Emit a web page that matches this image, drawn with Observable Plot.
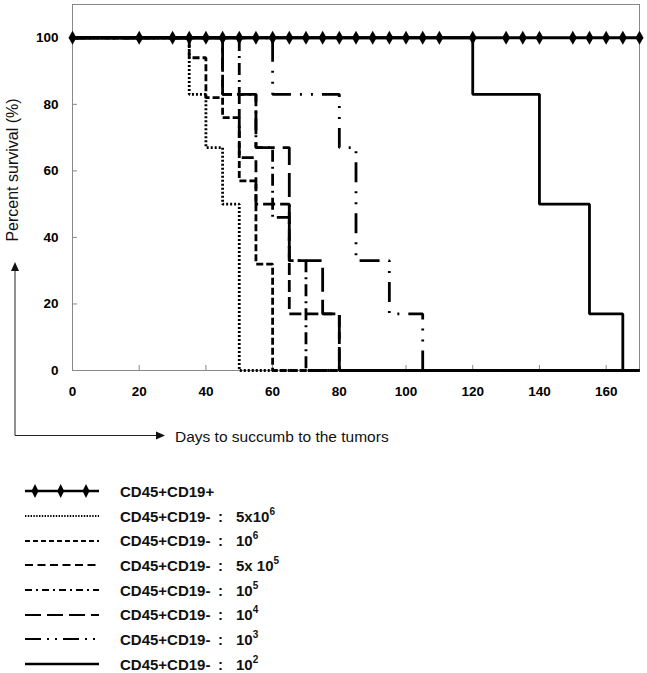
<!DOCTYPE html>
<html><head><meta charset="utf-8">
<script src="https://cdn.jsdelivr.net/npm/d3@7"></script>
<script src="https://cdn.jsdelivr.net/npm/@observablehq/plot@0.6"></script>
<style>
body{margin:0;background:#fff;font-family:"Liberation Sans",Arial,sans-serif;}
#chart{width:647px;}
#chart svg{display:block;}
#chart g[aria-label$="tick label"] text{font-weight:bold;font-size:13.5px;fill:#000;}
.legend{margin-top:29px;width:647px;}
.row{height:24.7px;display:flex;align-items:center;font-weight:bold;font-size:15px;color:#111;}
.row svg{flex:none;}
.nm{display:inline-block;width:98px;}
.co{display:inline-block;width:18px;}
.row sup{font-size:10px;vertical-align:7px;line-height:0;}
</style></head>
<body>
<div id="chart"></div>
<div class="legend" id="legend"></div>
<script>
// ---- data ----
const xTicks = [0, 20, 40, 60, 80, 100, 120, 140, 160];
const yTicks = [0, 20, 40, 60, 80, 100];

const cd19pDays = [0,20,30,35,40,45,50,55,60,65,70,75,80,85,90,95,100,105,110,120,130,135,140,150,155,160,165,170];
const cd19pSurv = cd19pDays.map(() => 100);

const s5e6Days = [0,35,40,45,50,170];
const s5e6Surv = [100,83,67,50,0,0];
const s1e6Days = [0,35,40,45,50,55,60,170];
const s1e6Surv = [100,94,82,76,57,32,0,0];
const s5e5Days = [0,45,50,55,65,80,170];
const s5e5Surv = [100,83,64,50,17,0,0];
const s1e5Days = [0,50,55,60,65,70,170];
const s1e5Surv = [100,83,67,46,33,0,0];
const s1e4Days = [0,45,55,65,75,80,170];
const s1e4Surv = [100,83,67,33,17,0,0];
const s1e3Days = [0,60,80,85,95,105,170];
const s1e3Surv = [100,83,67,33,17,0,0];
const s1e2Days = [0,120,140,155,165,170];
const s1e2Surv = [100,83,50,17,0,0];

const legendNames = ["CD45+CD19+","CD45+CD19-","CD45+CD19-","CD45+CD19-","CD45+CD19-","CD45+CD19-","CD45+CD19-","CD45+CD19-"];
const legendBase = ["", "5x10", "10", "5x 10", "10", "10", "10", "10"];
const legendExp = ["", "6", "6", "5", "5", "4", "3", "2"];

// ---- styles ----
const chartDash = [null, "2,2", "7,3", "12,5", "12,5,2,5", "24,8", "20,9,2,9,2,9", null];
const legendDash = [null, "1.4,1.4", "5,3", "8,4.5", "7,4,2,4", "16,6", "16,6,2,6,2,6", null];

const seriesDays = [s5e6Days, s1e6Days, s5e5Days, s1e5Days, s1e4Days, s1e3Days, s1e2Days];
const seriesSurv = [s5e6Surv, s1e6Surv, s5e5Surv, s1e5Surv, s1e4Surv, s1e3Surv, s1e2Surv];

const lineMarks = seriesDays.map((days, i) => {
  const rows = days.map((d, j) => ({day: d, surv: seriesSurv[i][j]}));
  return Plot.line(rows, {x: "day", y: "surv", curve: "step-after", stroke: "#000",
    strokeWidth: 2.8, strokeDasharray: chartDash[i + 1] || undefined, strokeLinecap: "butt", strokeLinejoin: "miter"});
});
const topRows = cd19pDays.map((d, j) => ({day: d, surv: cd19pSurv[j]}));

const W = 647, H = 450;
const plot = Plot.plot({
  width: W, height: H,
  marginLeft: 72, marginRight: 8, marginTop: 4, marginBottom: 80,
  style: {fontFamily: '"Liberation Sans", Arial, sans-serif', background: "#fff", overflow: "visible"},
  x: {domain: [0, 170]},
  y: {domain: [0, 110]},
  marks: [
    Plot.frame({stroke: "#888", strokeWidth: 1}),
    Plot.ruleY(yTicks, {y: d => d, insetRight: 562, stroke: "#888"}),
    Plot.ruleX(xTicks, {x: d => d, insetTop: 361, stroke: "#888"}),
    Plot.axisY({ticks: yTicks, tickSize: 0, tickPadding: 14, label: null, tickFormat: d => String(d)}),
    Plot.axisX({ticks: xTicks, tickSize: 0, tickPadding: 16, label: null, tickFormat: d => String(d)}),
    ...lineMarks,
    Plot.line(topRows, {x: "day", y: "surv", stroke: "#000", strokeWidth: 3}),
    Plot.dot(topRows, {x: "day", y: "surv", symbol: "diamond", r: 4.2, fill: "#000", stroke: "none"})
  ]
});
document.getElementById("chart").appendChild(plot);

// decorations: axis titles and arrows
const svg = d3.select(plot);
const g = svg.append("g").attr("fill", "none");
g.append("line").attr("x1", 15).attr("y1", 435.5).attr("x2", 157).attr("y2", 435.5).attr("stroke", "#222").attr("stroke-width", 1);
g.append("path").attr("d", "M165,435.5 L156,431.5 L156,439.5 Z").attr("fill", "#111");
g.append("line").attr("x1", 15).attr("y1", 435.5).attr("x2", 15).attr("y2", 270).attr("stroke", "#222").attr("stroke-width", 1);
g.append("path").attr("d", "M15,262 L11,271 L19,271 Z").attr("fill", "#111");
svg.append("text").attr("x", 175).attr("y", 442).attr("text-anchor", "start").attr("font-size", 15.5).attr("fill", "#111")
  .text("Days to succumb to the tumors");
svg.append("text").attr("transform", "translate(12,170) rotate(-90)").attr("text-anchor", "middle")
  .attr("dominant-baseline", "central").attr("font-size", 16).attr("fill", "#111")
  .text("Percent survival (%)");

// legend
const leg = document.getElementById("legend");
legendNames.forEach((name, i) => {
  const row = document.createElement("div");
  row.className = "row";
  const ns = "http://www.w3.org/2000/svg";
  const s = document.createElementNS(ns, "svg");
  s.setAttribute("width", 120); s.setAttribute("height", 24);
  const ln = document.createElementNS(ns, "line");
  ln.setAttribute("x1", 25); ln.setAttribute("x2", 99); ln.setAttribute("y1", 12); ln.setAttribute("y2", 12);
  ln.setAttribute("stroke", "#000"); ln.setAttribute("stroke-width", i === 0 || i === 7 ? 2.4 : 2);
  if (legendDash[i]) ln.setAttribute("stroke-dasharray", legendDash[i]);
  s.appendChild(ln);
  if (i === 0) {
    [35, 60.7, 86].forEach(cx => {
      const p = document.createElementNS(ns, "path");
      p.setAttribute("d", `M${cx},5 L${cx+3.5},12 L${cx},19 L${cx-3.5},12 Z`);
      p.setAttribute("fill", "#000");
      s.appendChild(p);
    });
  }
  row.appendChild(s);
  const nm = document.createElement("span"); nm.className = "nm"; nm.textContent = name; row.appendChild(nm);
  if (legendBase[i]) {
    const co = document.createElement("span"); co.className = "co"; co.textContent = ":"; row.appendChild(co);
    const v = document.createElement("span"); v.textContent = legendBase[i];
    const sp = document.createElement("sup"); sp.textContent = legendExp[i]; v.appendChild(sp);
    row.appendChild(v);
  }
  leg.appendChild(row);
});
</script>
</body></html>
